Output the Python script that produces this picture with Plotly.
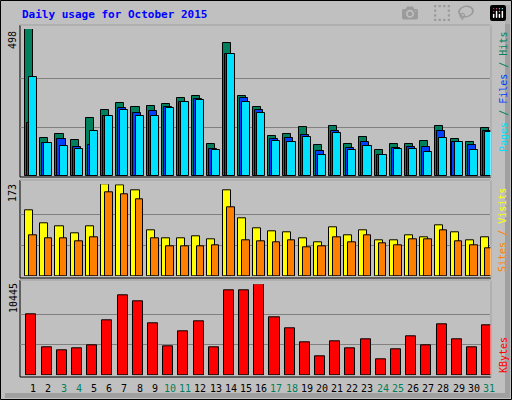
import plotly.graph_objects as go

days = list(range(1, 32))
hits = [498,129,142,122,196,224,247,234,237,244,264,271,108,451,271,234,136,142,166,105,169,108,132,88,108,108,119,169,125,115,163]
files = [180,112,125,98,105,203,230,213,220,234,251,261,91,413,264,224,125,129,139,85,152,95,115,71,95,98,98,152,115,105,152]
pages = [335,112,102,91,152,203,224,203,203,230,251,257,88,413,251,213,119,115,132,71,146,88,102,71,91,91,81,129,115,88,149]
visits = [124,100,94,81,94,173,171,162,86,71,71,75,70,162,109,90,85,83,71,64,92,77,86,68,68,77,73,96,83,68,73]
sites = [77,71,71,66,73,158,154,145,71,56,56,56,58,130,68,66,64,68,55,56,73,64,77,62,58,70,70,86,66,58,53]
kbytes = [7002,3214,2870,3099,3443,6313,9182,8494,5969,3329,5050,6198,3214,9756,9756,10445,6657,5395,3788,2181,3903,3099,4132,1836,2984,4476,3443,5854,4132,3214,5739]
weekend = {3,4,10,11,17,18,24,25,31}

W, H = 512, 400
def py(p): return 1 - p / H

fig = go.Figure()
line = dict(color="black", width=1)
def add(vals, off, w, color, ax):
    fig.add_trace(go.Bar(x=[d - 1 + off for d in days], y=vals, width=w,
                         marker=dict(color=color, line=line), xaxis="x", yaxis=ax,
                         showlegend=False, hoverinfo="skip"))
add(hits, 0.6, 0.53, "#00805C", "y")
add(files, 0.73, 0.53, "#0040FF", "y")
add(pages, 0.87, 0.53, "#00E0FF", "y")
add(visits, 0.6, 0.53, "#FFFF00", "y2")
add(sites, 0.87, 0.5, "#FF8000", "y2")
add(kbytes, 0.75, 0.66, "#FF0000", "y3")

def yax(mx, top, base):
    return dict(range=[0, mx], domain=[py(base), py(top)], tickvals=[mx/3, 2*mx/3],
                showticklabels=False, showgrid=True, gridcolor="#808080", gridwidth=1,
                zeroline=False, anchor="x", fixedrange=True)

shapes = [
    dict(type="rect", xref="paper", yref="paper", x0=505/W, x1=510/W, y0=py(398), y1=py(5), fillcolor="#A0A0A0", line=dict(width=0)),
    dict(type="rect", xref="paper", yref="paper", x0=5/W, x1=510/W, y0=py(398), y1=py(393), fillcolor="#A0A0A0", line=dict(width=0)),
    dict(type="rect", xref="paper", yref="paper", x0=0.5/W, x1=511.5/W, y0=py(399.5), y1=py(0.5), line=dict(color="black", width=1)),
]
for t, b in [(25, 177), (180, 278), (280, 377)]:
    shapes.append(dict(type="rect", xref="paper", yref="paper", x0=20/W, x1=491/W, y0=py(b), y1=py(t), line=dict(color="black", width=1), layer="below"))
    shapes.append(dict(type="line", xref="paper", yref="paper", x0=20/W, x1=491/W, y0=py(t), y1=py(t), line=dict(color="white", width=1)))
    shapes.append(dict(type="line", xref="paper", yref="paper", x0=491/W, x1=491/W, y0=py(b), y1=py(t), line=dict(color="white", width=1)))

mono = "DejaVu Sans Mono"
ann = [dict(text="<b>Daily usage for October 2015</b>", x=20/W, y=py(15), xref="paper", yref="paper",
            xanchor="left", yanchor="middle", showarrow=False, font=dict(family=mono, size=11, color="#0000FF"))]
for d in days:
    ann.append(dict(text=str(d), x=d - 1 + 0.87, y=py(388), xref="x", yref="paper", showarrow=False,
                    xanchor="center", yanchor="middle",
                    font=dict(family=mono, size=10, color="#00805C" if d in weekend else "black")))
for txt, yc in [("498", 40), ("173", 193), ("10445", 298)]:
    ann.append(dict(text=txt, x=13/W, y=py(yc), xref="paper", yref="paper", textangle=-90, showarrow=False,
                    xanchor="center", yanchor="middle", font=dict(family=mono, size=10, color="black")))
ann.append(dict(text='<span style="color:#00E0FF">Pages</span> / <span style="color:#0040FF">Files</span> / <span style="color:#00805C">Hits</span>',
                x=503/W, y=py(92), xref="paper", yref="paper", textangle=-90, showarrow=False,
                xanchor="center", yanchor="middle", font=dict(family=mono, size=10, color="#00805C")))
ann.append(dict(text='<span style="color:#FF8000">Sites</span> / <span style="color:#FFFF00">Visits</span>',
                x=503/W, y=py(230), xref="paper", yref="paper", textangle=-90, showarrow=False,
                xanchor="center", yanchor="middle", font=dict(family=mono, size=10, color="#FF8000")))
ann.append(dict(text="KBytes", x=503/W, y=py(355), xref="paper", yref="paper", textangle=-90, showarrow=False,
                xanchor="center", yanchor="middle", font=dict(family=mono, size=10, color="#FF0000")))

fig.update_layout(
    width=W, height=H, margin=dict(l=0, r=0, t=0, b=0),
    paper_bgcolor="#C0C0C0", plot_bgcolor="rgba(0,0,0,0)", barmode="overlay", bargap=0,
    xaxis=dict(range=[0, 31], domain=[20/W, 491/W], showticklabels=False, showgrid=False,
               zeroline=False, fixedrange=True, anchor="y3"),
    yaxis=yax(498, 29, 176), yaxis2=yax(173, 184.3, 276), yaxis3=yax(10445, 284.3, 375.3),
    shapes=shapes, annotations=ann,
)
fig.write_html("out.html", post_script="document.body.style.margin='0';document.body.style.overflow='hidden';")
